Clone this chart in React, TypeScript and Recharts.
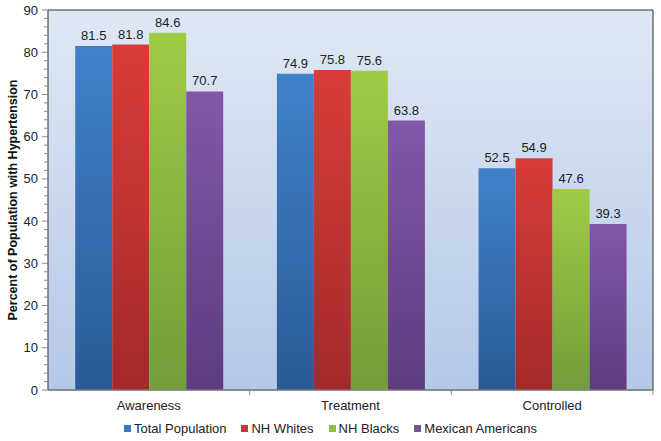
import {
  Bar,
  BarChart,
  CartesianGrid,
  LabelList,
  Legend,
  ReferenceArea,
  XAxis,
  YAxis,
} from 'recharts'

const categories = ['Awareness', 'Treatment', 'Controlled']
const totalPopulation = [81.5, 74.9, 52.5]
const nhWhites = [81.8, 75.8, 54.9]
const nhBlacks = [84.6, 75.6, 47.6]
const mexicanAmericans = [70.7, 63.8, 39.3]
const yTicks = Array.from({ length: 46 }, (_, i) => i * 2)

const series = [
  { key: 'total', label: 'Total Population', top: '#3f82c9', bottom: '#2a5a96', swatch: '#3a78c0' },
  { key: 'whites', label: 'NH Whites', top: '#d93c39', bottom: '#a32a2a', swatch: '#cc3636' },
  { key: 'blacks', label: 'NH Blacks', top: '#a0cb46', bottom: '#729d3a', swatch: '#92bf42' },
  { key: 'mexican', label: 'Mexican Americans', top: '#8257aa', bottom: '#5c3c7e', swatch: '#7750a0' },
]

const data = categories.map((name, i) => ({
  name,
  total: totalPopulation[i],
  whites: nhWhites[i],
  blacks: nhBlacks[i],
  mexican: mexicanAmericans[i],
}))

const font = '"Liberation Sans", Arial, sans-serif'

function YTick(props: any) {
  const { x, y, payload } = props
  const v = payload.value
  const major = v % 10 === 0
  const edge = x + 8
  return (
    <g>
      <line x1={edge - (major ? 6 : 4)} x2={edge} y1={y} y2={y} stroke="#8a8a8a" strokeWidth={1} />
      {major && (
        <text x={x - 2} y={y} dy={4.5} textAnchor="end" fontSize={13} fill="#222" fontFamily={font}>
          {v}
        </text>
      )}
    </g>
  )
}

function XTick(props: any) {
  const { x, y, payload, width, visibleTicksCount } = props
  const band = width / visibleTicksCount
  const top = y - 8
  return (
    <g>
      <line x1={x + band / 2} x2={x + band / 2} y1={top} y2={top + 5} stroke="#8a8a8a" />
      <text x={x} y={top + 20} textAnchor="middle" fontSize={13} fill="#222" fontFamily={font}>
        {payload.value}
      </text>
    </g>
  )
}

function LegendContent() {
  return (
    <div
      style={{
        display: 'flex',
        justifyContent: 'center',
        gap: 15,
        fontFamily: font,
        fontSize: 13,
        color: '#222',
        paddingLeft: 8,
        paddingTop: 6,
      }}
    >
      {series.map((s) => (
        <span key={s.key} style={{ display: 'flex', alignItems: 'center' }}>
          <span style={{ width: 7, height: 7, background: s.swatch, marginRight: 3, display: 'inline-block' }} />
          {s.label}
        </span>
      ))}
    </div>
  )
}

export default function App() {
  return (
    <div style={{ position: 'absolute', left: 0, top: 0, background: '#fff' }}>
      <BarChart
        width={661}
        height={441}
        data={data}
        margin={{ top: 10, right: 8, left: 0, bottom: 0 }}
        barCategoryGap="13.5%"
        barGap={0}
      >
        <defs>
          <linearGradient id="bg" x1="0" y1="0" x2="0" y2="1">
            <stop offset="0%" stopColor="#e0e8f4" />
            <stop offset="100%" stopColor="#b4c8e8" />
          </linearGradient>
          {series.map((s) => (
            <linearGradient key={s.key} id={`g-${s.key}`} x1="0" y1="0" x2="0" y2="1">
              <stop offset="0%" stopColor={s.top} />
              <stop offset="100%" stopColor={s.bottom} />
            </linearGradient>
          ))}
        </defs>
        <CartesianGrid horizontal={false} vertical={false} fill="url(#bg)" fillOpacity={1} />
        <XAxis
          dataKey="name"
          height={25}
          tickLine={false}
          axisLine={{ stroke: '#8a8a8a' }}
          tick={<XTick />}
          interval={0}
        />
        <YAxis
          width={48}
          domain={[0, 90]}
          ticks={yTicks}
          interval={0}
          tickLine={false}
          axisLine={{ stroke: '#8a8a8a' }}
          tick={<YTick />}
          label={{
            value: 'Percent of Population with Hypertension',
            angle: -90,
            position: 'insideLeft',
            dx: 8,
            style: { fontFamily: font, fontSize: 12.5, fontWeight: 'bold', fill: '#111', textAnchor: 'middle' },
          }}
        />
        <ReferenceArea y1={0} y2={90} fill="none" stroke="#333" strokeWidth={1} ifOverflow="visible" />
        <Legend verticalAlign="bottom" height={26} content={<LegendContent />} />
        {series.map((s) => (
          <Bar key={s.key} dataKey={s.key} name={s.label} fill={`url(#g-${s.key})`} isAnimationActive={false}>
            <LabelList
              dataKey={s.key}
              position="top"
              offset={6}
              style={{ fontFamily: font, fontSize: 13, fill: '#222' }}
            />
          </Bar>
        ))}
      </BarChart>
    </div>
  )
}
